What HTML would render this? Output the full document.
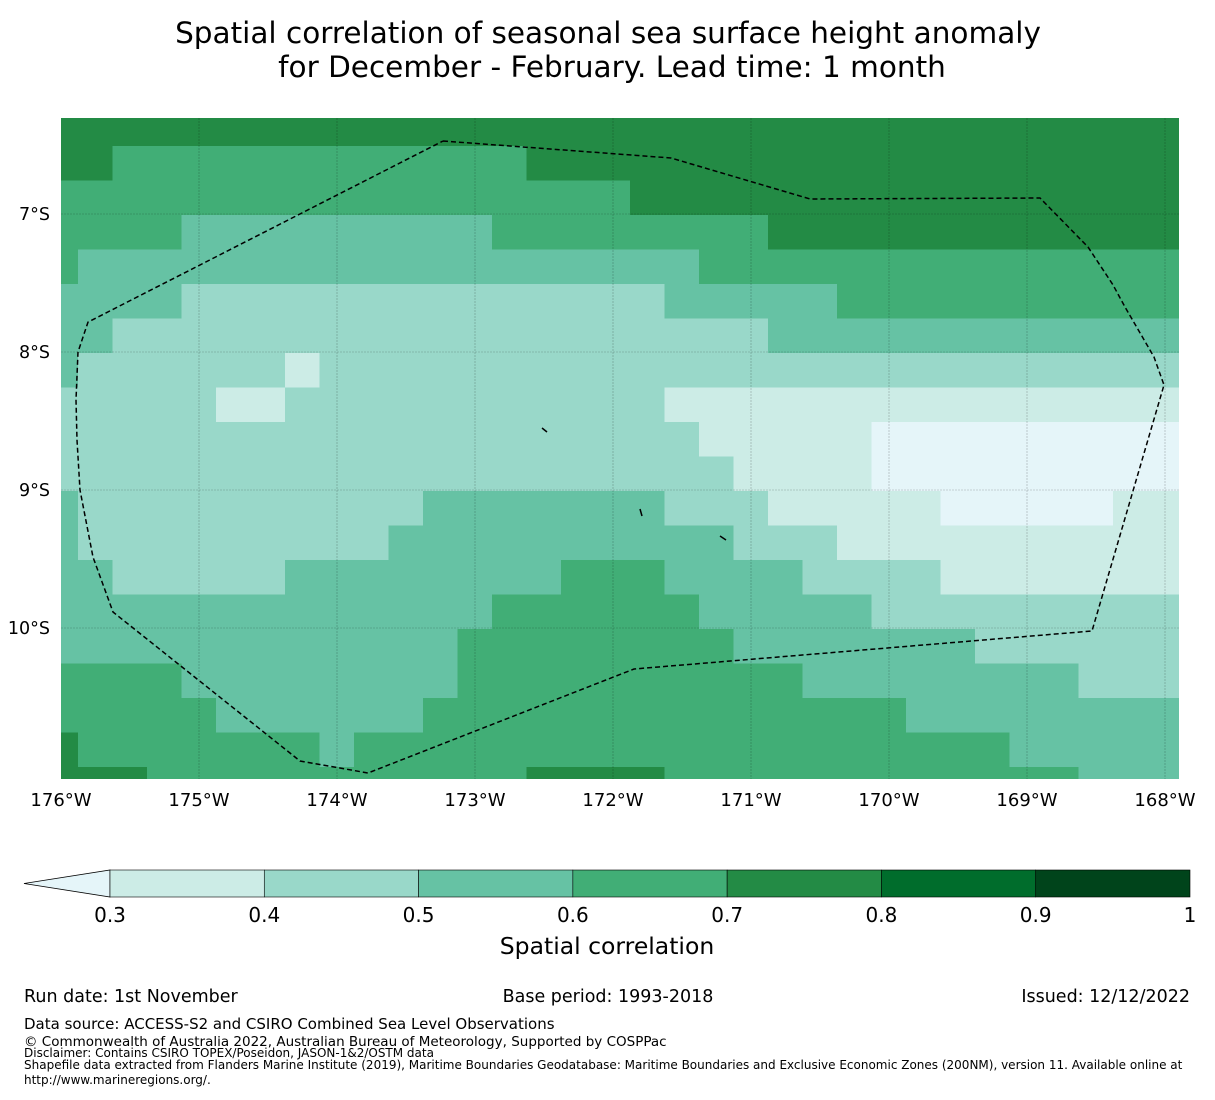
<!DOCTYPE html>
<html><head><meta charset="utf-8"><style>
body{margin:0;background:#fff;}
svg text{font-family:"DejaVu Sans","Liberation Sans",sans-serif;fill:#000;}
</style></head><body>
<svg id="chart" width="1215" height="1095" viewBox="0 0 1215 1095" xmlns="http://www.w3.org/2000/svg">
<text x="608" y="43" font-size="29.5" text-anchor="middle">Spatial correlation of seasonal sea surface height anomaly</text>
<text x="612" y="77" font-size="29.5" text-anchor="middle">for December - February. Lead time: 1 month</text>
<g id="map"></g>
<g id="axes"></g>
<g id="cbar"></g>
<text x="607" y="954" font-size="23.5" text-anchor="middle">Spatial correlation</text>
<text x="24" y="1002" font-size="17.5">Run date: 1st November</text>
<text x="608" y="1002" font-size="17.5" text-anchor="middle">Base period: 1993-2018</text>
<text x="1190" y="1002" font-size="17.5" text-anchor="end">Issued: 12/12/2022</text>
<text x="24" y="1029" font-size="15">Data source: ACCESS-S2 and CSIRO Combined Sea Level Observations</text>
<text x="24" y="1046" font-size="13.5">© Commonwealth of Australia 2022, Australian Bureau of Meteorology, Supported by COSPPac</text>
<text x="24" y="1057" font-size="12">Disclaimer: Contains CSIRO TOPEX/Poseidon, JASON-1&amp;2/OSTM data</text>
<text x="24" y="1069" font-size="12">Shapefile data extracted from Flanders Marine Institute (2019), Maritime Boundaries Geodatabase: Maritime Boundaries and Exclusive Economic Zones (200NM), version 11. Available online at</text>
<text x="24" y="1084" font-size="12">http://www.marineregions.org/.</text>
</svg>
<script>
// Correlation grid: each digit d = correlation bin starting at d/10 (value ≈ d/10+0.05), rows north→south, cols west→east
const corrRows = [
"777777777777777777777777777777777",
"77"+"666666666666"+"7777777777777777777",
"66666666666666666"+"7777777777777777",
"6666"+"555555555"+"66666666"+"777777777777",
"6"+"555555555555555555"+"66666666666666",
"5555"+"44444444444444"+"55555"+"6666666666",
"55"+"4444444444444444444"+"555555555555",
"5"+"444444"+"3"+"4444444444444444444444444",
"44444"+"33"+"44444444444"+"333333333333333",
"4444444444444444444"+"33333"+"222222222",
"44444444444444444444"+"3333"+"222222222",
"5"+"4444444444"+"5555555"+"444"+"33333"+"22222"+"33",
"5"+"444444444"+"5555555555"+"444"+"3333333333",
"55"+"44444"+"55555555"+"666"+"5555"+"4444"+"3333333",
"5555555555555"+"666666"+"55555"+"444444444",
"555555555555"+"66666666"+"5555555"+"444444",
"6666"+"55555555"+"6666666666"+"55555555"+"444",
"66666"+"555555"+"66666666666666"+"55555555",
"7"+"6666666"+"5"+"6666666666666666666"+"55555",
"777"+"66666666666"+"7777"+"666666666666"+"555"
];
const binEdges = [0.3,0.4,0.5,0.6,0.7,0.8,0.9,1.0];
const binColors = ["#e5f5f9","#ccece6","#99d8c9","#66c2a4","#41ae76","#238b45","#006d2c","#00441b"];
const lonTicks = [-176,-175,-174,-173,-172,-171,-170,-169,-168];
const latTicks = [-7,-8,-9,-10];
const eezLon = [-173.232,-171.580,-170.572,-168.906,-168.558,-168.377,-168.290,-168.080,-168.007,-168.529,-171.848,-173.775,-174.268,-175.623,-175.768,-175.862,-175.884,-175.891,-175.877,-175.804];
const eezLat = [-6.471,-6.594,-6.891,-6.884,-7.239,-7.514,-7.674,-8.036,-8.239,-10.022,-10.297,-11.051,-10.964,-9.884,-9.486,-9.0,-8.638,-8.348,-8.0,-7.783];

const NS="http://www.w3.org/2000/svg";
const X0=61, X1=1179, Y0=118, Y1=779, PX=138;
function xOf(lon){return X0+(lon+176)*PX;}
function yOf(lat){return 214+(-7-lat)*PX;}
function colorOf(v){let i=0;while(i<binEdges.length&&v>=binEdges[i])i++;return binColors[Math.min(i,binColors.length-1)];}
const cw=34.5;
function colEdge(c){if(c<=0)return X0;const e=78+cw*(c-1);return Math.min(e,X1);}
function rowEdge(r){if(r<=0)return Y0;const e=146+cw*(r-1);return Math.min(e,Y1);}
function el(tag,attrs,parent){const e=document.createElementNS(NS,tag);for(const k in attrs)e.setAttribute(k,attrs[k]);parent.appendChild(e);return e;}
const map=document.getElementById('map');
corrRows.forEach((row,r)=>{
  for(let c=0;c<row.length;c++){
    const v=parseInt(row[c])/10+0.05;
    const x=colEdge(c),x2=(c===row.length-1)?X1:colEdge(c+1);
    const y=rowEdge(r),y2=(r===corrRows.length-1)?Y1:rowEdge(r+1);
    const rect=el('rect',{x:x,y:y,width:Math.min(x2-x+0.6,X1-x),height:Math.min(y2-y+0.6,Y1-y),fill:colorOf(v)},map);
    
    
  }
});
const axes=document.getElementById('axes');
lonTicks.forEach(l=>{
  const x=xOf(l);
  if(x>X0+1&&x<X1){const g=el('line',{x1:x,y1:Y0,x2:x,y2:Y1,stroke:'rgba(0,0,0,0.3)','stroke-width':0.6,'stroke-dasharray':'2,1'},axes);
  
  }
  const t=el('text',{x:x,y:806,'font-size':18,'text-anchor':'middle'},axes);
  t.textContent=Math.abs(l)+'°W';
  
  
});
latTicks.forEach(l=>{
  const y=yOf(l);
  const g=el('line',{x1:X0,y1:y,x2:X1,y2:y,stroke:'rgba(0,0,0,0.3)','stroke-width':0.6,'stroke-dasharray':'2,1'},axes);
  
  
  const t=el('text',{x:50,y:y+6,'font-size':17.5,'text-anchor':'end'},axes);
  t.textContent=Math.abs(l)+'°S';
  
  
});
const pts=eezLon.map((l,i)=>xOf(l).toFixed(1)+','+yOf(eezLat[i]).toFixed(1));
pts.push(pts[0]);
const eez=el('polyline',{points:pts.join(' '),fill:'none',stroke:'#000','stroke-width':1.5,'stroke-dasharray':'5,3'},axes);


[[542,428,547,432],[640,509,642,516],[720,536,726,540]].forEach(s=>{
  const i=el('line',{x1:s[0],y1:s[1],x2:s[2],y2:s[3],stroke:'#000','stroke-width':1.5},axes);
  
  
});
const cb=document.getElementById('cbar');
const CB0=110,CB1=1190,CBy=870,CBh=27;
function cbX(v){return CB0+(v-0.3)/(1.0-0.3)*(CB1-CB0);}
const tri=el('polygon',{points:`24,${CBy+CBh/2} ${CB0},${CBy} ${CB0},${CBy+CBh}`,fill:binColors[0],stroke:'#000','stroke-width':0.8},cb);


for(let i=0;i<binEdges.length-1;i++){
  const r=el('rect',{x:cbX(binEdges[i]),y:CBy,width:cbX(binEdges[i+1])-cbX(binEdges[i]),height:CBh,fill:binColors[i+1],stroke:'#000','stroke-width':0.6},cb);
  
  
}
binEdges.forEach(v=>{
  const t=el('text',{x:cbX(v),y:922,'font-size':20,'text-anchor':'middle'},cb);
  t.textContent=(v===1?'1':v.toFixed(1));
  
  
});
</script>
</body></html>
